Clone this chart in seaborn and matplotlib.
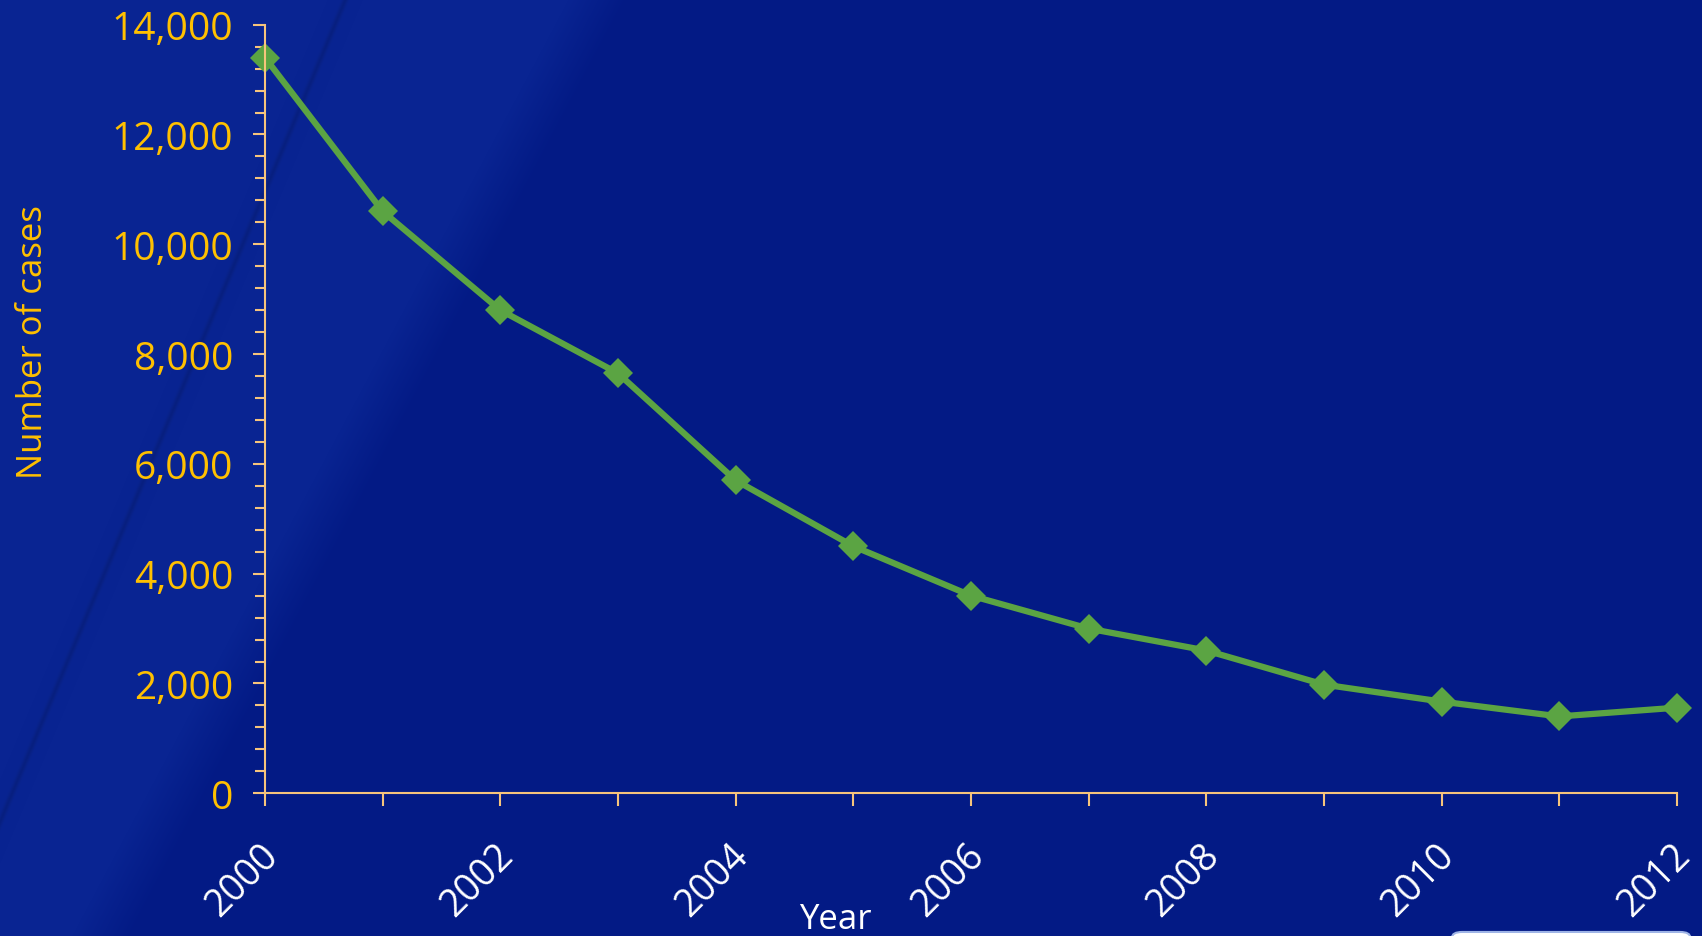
import numpy as np
import matplotlib
matplotlib.use('Agg')
import matplotlib.pyplot as plt
import matplotlib.ticker as mticker
import matplotlib.transforms as mtransforms
from matplotlib.patches import FancyBboxPatch
import seaborn as sns

# values
years = [2000, 2001, 2002, 2003, 2004, 2005, 2006, 2007, 2008, 2009, 2010, 2011, 2012]
cases = [13400, 10600, 8800, 7650, 5700, 4500, 3600, 3000, 2600, 1980, 1670, 1400, 1560]
year_labels = ['2000', '', '2002', '', '2004', '', '2006', '', '2008', '', '2010', '', '2012']

sns.set_theme(style='white')
plt.rcParams['font.family'] = ['Open Sans', 'DejaVu Sans']

axis_col = '#f6c47c'
label_col = '#ffc000'
line_col = '#5ba443'

fig = plt.figure(figsize=(17.02, 9.37), dpi=100)

# slide-like blue background with a soft lighter diagonal band
H, W = 937, 1702
yy, xx = np.mgrid[0:H, 0:W]
dark = np.array([3, 26, 133]) / 255
light = np.array([9, 36, 146]) / 255
edge = 598 - 0.53 * yy
t = np.clip((edge - xx) / 60 + 0.5, 0, 1)
img = dark[None, None, :] * (1 - t[..., None]) + light[None, None, :] * t[..., None]
thin = np.exp(-((xx - (345 - 0.42 * yy)) / 3.0) ** 2)
img = img * (1 - 0.12 * thin[..., None])
bg = fig.add_axes([0, 0, 1, 1], zorder=-10)
bg.imshow(img, aspect='auto', extent=[0, 1, 0, 1])
bg.axis('off')

ax = fig.add_axes([0.1557, 0.1523, 0.8296, 0.8203])
ax.patch.set_alpha(0)

sns.lineplot(x=years, y=cases, ax=ax, color=line_col, lw=4.5, marker='D',
             markersize=15, markeredgewidth=0)
for ln in ax.lines:
    ln.set_clip_on(False)

ax.set_xlim(2000, 2012)
ax.set_ylim(0, 14000)
ax.set_xticks(years)
ax.set_xticklabels(year_labels)
ax.yaxis.set_major_locator(mticker.MultipleLocator(2000))
ax.yaxis.set_minor_locator(mticker.MultipleLocator(400))
ax.yaxis.set_major_formatter(mticker.StrMethodFormatter('{x:,.0f}'))

for s in ['top', 'right']:
    ax.spines[s].set_visible(False)
for s in ['left', 'bottom']:
    ax.spines[s].set_color(axis_col)
    ax.spines[s].set_linewidth(1.5)

ax.tick_params(axis='y', which='major', direction='out', left=True, length=9, width=1.5,
               color=axis_col, labelcolor=label_col, labelsize=28, pad=14)
ax.tick_params(axis='y', which='minor', direction='out', left=True, length=7, width=1.5,
               color=axis_col)
ax.tick_params(axis='x', which='major', direction='out', bottom=True, length=9, width=1.5,
               color=axis_col, labelcolor='white', labelsize=27, pad=22, labelrotation=45)

shift = mtransforms.ScaledTranslation(-0.23, 0, fig.dpi_scale_trans)
for lbl in ax.get_xticklabels():
    lbl.set_ha('center')
    lbl.set_transform(lbl.get_transform() + shift)

ax.set_ylabel('Number of cases', color=label_col, fontsize=25)
ax.yaxis.set_label_coords(-0.152, 0.588)
ax.set_xlabel('Year', color='white', fontsize=25)
ax.xaxis.set_label_coords(0.404, -0.142)

# bit of a white box peeking in at the bottom right
fig.patches.append(FancyBboxPatch((1452 / W, -0.03), 0.14, 0.0343,
                                  boxstyle='round,pad=0,rounding_size=0.006',
                                  transform=fig.transFigure, fc='white', ec='#9fb4e6', lw=1.5))

fig.savefig('out.png', dpi=100)
